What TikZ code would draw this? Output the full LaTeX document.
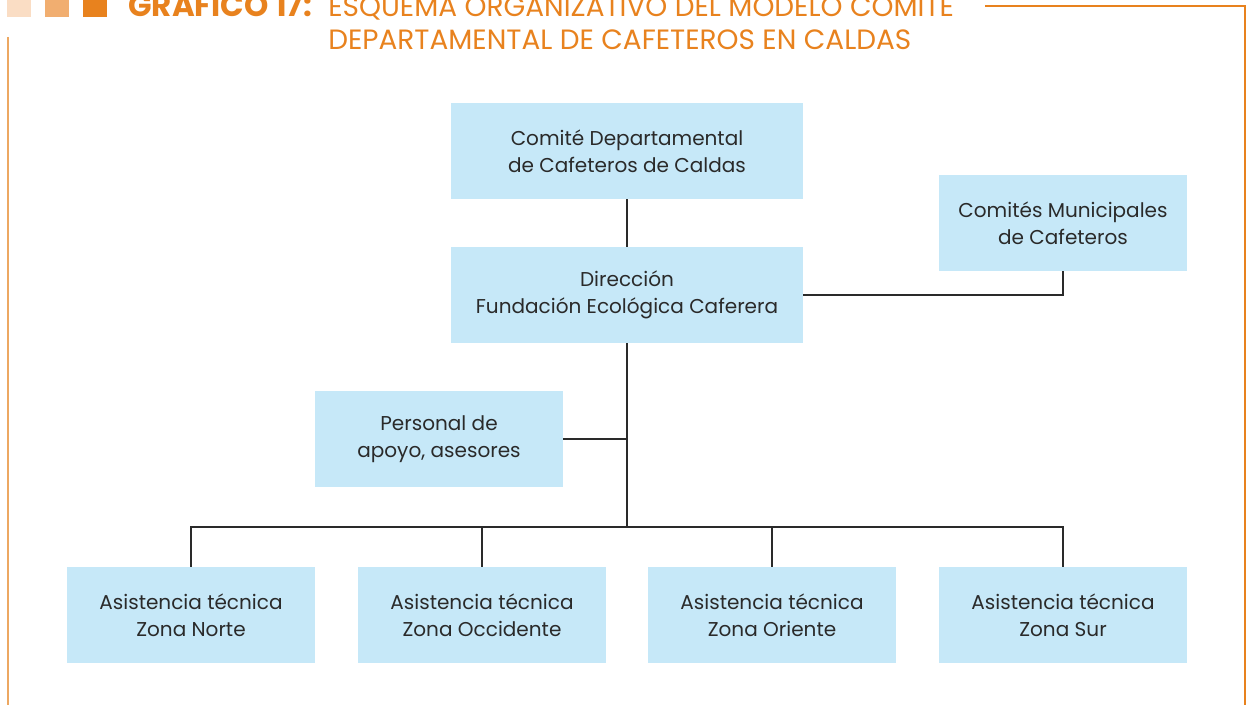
\documentclass[tikz,border=0pt]{standalone}
\usepackage{fontspec}
\setmainfont{Poppins}
\usepackage{tikz}
\usepackage{xcolor}
\usetikzlibrary{calc}

\definecolor{cafeOrange}{HTML}{E8821E}
\definecolor{cafeMid}{HTML}{F1AE70}
\definecolor{cafeLight}{HTML}{FADDC4}
\definecolor{cafeFrame}{HTML}{EDA862}
\definecolor{cafeBox}{HTML}{C6E8F8}
\definecolor{cafeText}{HTML}{2A2A2A}

\begin{document}
\begin{tikzpicture}[x=0.02cm,y=-0.02cm,
  wide/.style={fill=cafeBox, text=cafeText, minimum width=7.04cm, minimum height=1.92cm, align=center, font=\fontsize{11.4}{15.3}\selectfont},
  narrow/.style={wide, minimum width=4.96cm},
  link/.style={line width=1.4pt, cafeText},
  title/.style={text=cafeOrange, inner sep=0pt, anchor=base west, font=\fontsize{15.9}{18}\selectfont}]
\useasboundingbox (0,0) rectangle (1246,705);
% header
\fill[cafeLight] (7,0) rectangle (31,17);
\fill[cafeMid] (45,0) rectangle (69,17);
\fill[cafeOrange] (83,0) rectangle (107,17);
\node[title, font=\fontsize{17.6}{18}\selectfont\bfseries] (titlenum) at (128,17) {GRAFICO 17:};
\node[title] (titleone) at (328,17) {ESQUEMA ORGANIZATIVO DEL MODELO COMITE};
\node[title] (titletwo) at (328,50) {DEPARTAMENTAL DE CAFETEROS EN CALDAS};
\draw[cafeFrame, line width=1.2pt] (8,37) -- (8,705);
\draw[cafeOrange, line width=0.6pt] (985,6) -- (1245,6) -- (1245,705);
% boxes
\node[wide] (comite) at (627,151) {Comité Departamental\\de Cafeteros de Caldas};
\node[wide] (direccion) at (627,295) {Dirección\\Fundación Ecológica Caferera};
\node[narrow] (municipales) at (1063,223) {Comités Municipales\\de Cafeteros};
\node[narrow] (personal) at (439,439) {Personal de\\apoyo, asesores};
\node[narrow] (norte) at (191,615) {Asistencia técnica\\Zona Norte};
\node[narrow] (occidente) at (482,615) {Asistencia técnica\\Zona Occidente};
\node[narrow] (oriente) at (772,615) {Asistencia técnica\\Zona Oriente};
\node[narrow] (sur) at (1063,615) {Asistencia técnica\\Zona Sur};
% lines
\coordinate (bus) at (627,527);
\draw[link] (comite) -- (direccion);
\draw[link] (direccion.east) -| (municipales.south);
\draw[link] (direccion.south) -- (bus);
\draw[link] (personal.east) -- (personal.east -| bus);
\draw[link] (norte.north) |- (bus) -| (sur.north);
\draw[link] (occidente.north) -- (occidente.north |- bus);
\draw[link] (oriente.north) -- (oriente.north |- bus);
\end{tikzpicture}
\end{document}
